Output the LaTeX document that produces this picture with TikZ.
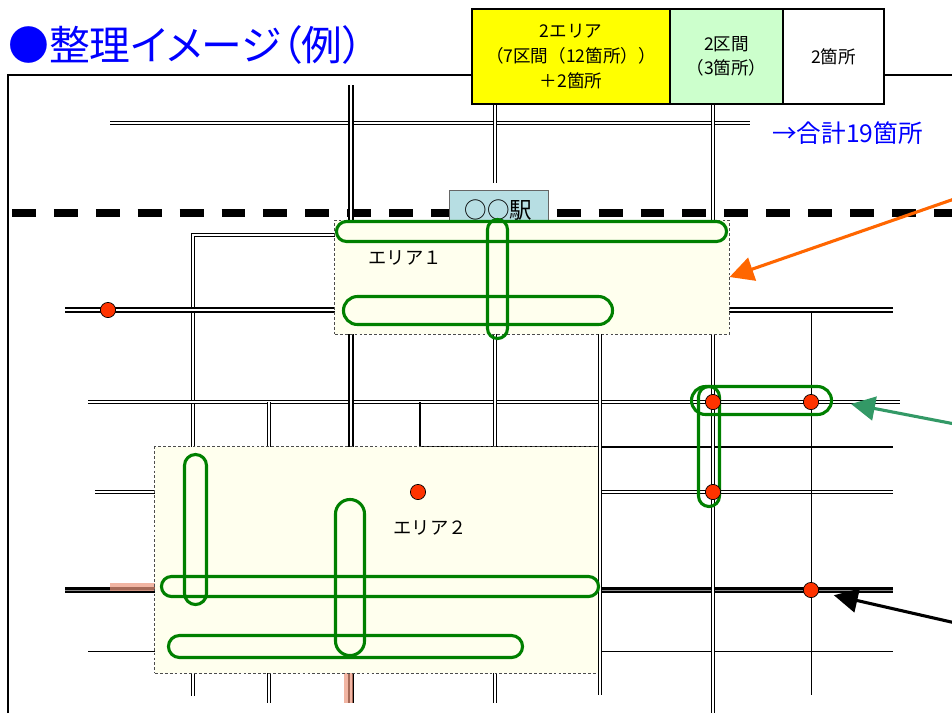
\documentclass[tikz,border=0pt]{standalone}
\usepackage{fontspec}
\setmainfont{Noto Sans CJK JP}
\newfontfamily\titlefont[RawFeature=+palt]{Noto Sans CJK JP}
\usepackage{tikz}
\usepackage{xcolor}
\usetikzlibrary{arrows.meta,shapes.misc}
\definecolor{areafill}{RGB}{255,255,238}
\definecolor{loopgreen}{RGB}{0,128,0}
\definecolor{dotred}{RGB}{255,51,0}
\definecolor{stationblue}{RGB}{183,222,227}
\definecolor{salmon}{RGB}{236,150,125}
\definecolor{arroworange}{RGB}{255,102,0}
\definecolor{arrowteal}{RGB}{51,153,102}
\definecolor{cellyellow}{RGB}{255,255,0}
\definecolor{cellgreen}{RGB}{204,255,204}
\tikzset{
  road/.style={line width=0.85pt, double=white, double distance=1.3pt},
  mainroad/.style={line width=1.5pt, double=white, double distance=1.4pt},
  heavyroad/.style={line width=2.1pt, double=black!45, double distance=0.6pt},
  lane/.style={line width=0.6pt},
  widelane/.style={line width=2.1pt},
  areabox/.style={draw=black!70, fill=areafill, line width=0.7pt, dash pattern=on 2pt off 1.5pt, inner sep=0pt},
  kukan/.style={rounded rectangle, draw=loopgreen, line width=2.2pt, inner sep=0pt},
  spot/.style={circle, draw=black, fill=dotred, line width=0.5pt, minimum size=0.38cm, inner sep=0pt},
  tablecell/.style={draw, line width=1.4pt, anchor=north west, inner sep=0pt, align=center, minimum height=2.375cm, font=\fontsize{12.5pt}{17.5pt}\selectfont},
  pointer/.style={line width=2.2pt, -{Triangle[length=17pt,width=17pt]}},
}

\begin{document}
\begin{tikzpicture}[x=0.025cm, y=-0.025cm]
                \fill[white] (0,0) rectangle (952,713);
                \useasboundingbox (0,0) rectangle (952,713);
                \draw[line width=1.4pt] (8,713) -- (8,75) -- (952,75);
                \draw[line width=5pt, dash pattern=on 17pt off 12.8pt] (12,213) -- (952,213);

                \draw[road] (110,123) -- (750,123);
                \draw[road] (335,235) -- (193,235) -- (193,447);
                \draw[road] (193,673) -- (193,696);
                \draw[mainroad] (65,310) -- (893,310);
                \draw[road] (88,402) -- (900,402);
                \draw[widelane] (420,402) -- (420,447) -- (893,447);
                \draw[road] (95,492) -- (893,492);
                \draw[heavyroad] (65,590) -- (893,590);
                \draw[lane] (88,651) -- (893,651);
                \draw[road] (269,402) -- (269,703);
                \draw[mainroad] (351,85) -- (351,703);
                \draw[road] (495,103) -- (495,183);
                \draw[road] (495,334) -- (495,703);
                \draw[road] (713,103) -- (713,713);
                \draw[lane] (811,313) -- (811,695);
                \draw[salmon, opacity=0.7, line width=5.7pt] (110,587) -- (155,587);
                \draw[salmon, opacity=0.7, line width=6.4pt] (348,673) -- (348,703);

                \node[draw=black!60, fill=stationblue, line width=0.7pt, minimum width=2.475cm, minimum height=1cm, anchor=north, font=\fontsize{16pt}{16pt}\selectfont] (station) at (498.5,190) {○○駅};
                \node[areabox, minimum width=9.85cm, minimum height=2.85cm] (area1) at (532,277) {};
                \node[areabox, minimum width=11.15cm, minimum height=5.65cm] (area2) at (378,560) {};
                \draw[road] (600,334) -- (600,695);

                \node[kukan, minimum width=9.75cm, minimum height=0.5cm] (kukanA) at (531.5,231.5) {};
                \node[kukan, minimum width=2.975cm, minimum height=0.5cm, rotate=90] (kukanB) at (497.5,279) {};
                \node[kukan, minimum width=6.725cm, minimum height=0.7cm] (kukanC) at (478,310.5) {};
                \node[kukan, minimum width=3.5cm, minimum height=0.7cm] (kukanD) at (761.5,400.5) {};
                \node[kukan, minimum width=3cm, minimum height=0.525cm, rotate=90] (kukanE) at (709,446.5) {};
                \node[kukan, minimum width=3.75cm, minimum height=0.55cm, rotate=90] (kukanF) at (195.5,529.5) {};
                \node[kukan, minimum width=10.925cm, minimum height=0.5cm] (kukanG) at (380,586.5) {};
                \node[kukan, minimum width=3.9cm, minimum height=0.725cm, rotate=90] (kukanH) at (350,577.5) {};
                \node[kukan, minimum width=8.85cm, minimum height=0.55cm] (kukanI) at (345.5,646.5) {};

                \node[spot] (spotA) at (108,310) {};
                \node[spot] (spotB) at (713,402) {};
                \node[spot] (spotC) at (811,402) {};
                \node[spot] (spotD) at (713,492) {};
                \node[spot] (spotE) at (811,590) {};
                \node[spot] (spotF) at (418,492) {};

                \node[font=\fontsize{13pt}{13pt}\selectfont] (label1) at (405,258) {エリア１};
                \node[font=\fontsize{13pt}{13pt}\selectfont] (label2) at (430,528) {エリア２};

                \node[tablecell, fill=cellyellow, minimum width=4.95cm] (cellA) at (471,8) {2エリア\\（7区間（12箇所））\\＋2箇所};
                \node[tablecell, fill=cellgreen, minimum width=2.825cm] (cellB) at (669,8) {2区間\\（3箇所）};
                \node[tablecell, fill=white, minimum width=2.525cm] (cellC) at (782,8) {2箇所};
                \node[anchor=west, text=blue, inner sep=0pt, font=\fontsize{17.5pt}{17.5pt}\selectfont] (total) at (772,133) {→合計19箇所};

                \coordinate (fromA) at (960,197);
                \coordinate (fromB) at (960,425);
                \coordinate (fromC) at (960,624);
                \draw[pointer, arroworange] (fromA) -- (area1.east);
                \draw[pointer, arrowteal, shorten >=13pt] (fromB) -- (kukanD.east);
                \draw[pointer, shorten >=11pt] (fromC) -- (spotE);

                \node[anchor=west, text=blue, inner sep=0pt, font=\titlefont\fontsize{29pt}{29pt}\selectfont] (title) at (8,45) {●整理イメージ（例）};
            \end{tikzpicture}
\end{document}
